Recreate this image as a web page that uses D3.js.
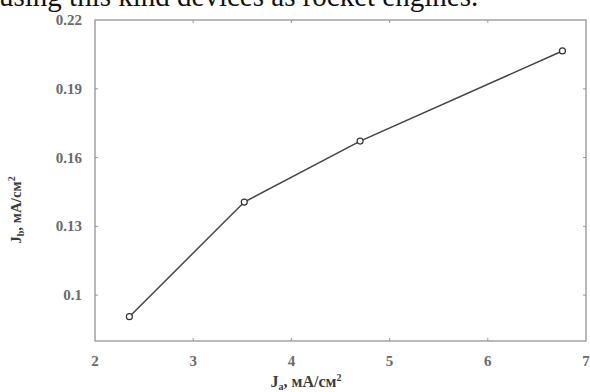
<!DOCTYPE html>
<html>
<head>
<meta charset="utf-8">
<script src="https://cdn.jsdelivr.net/npm/d3@7"></script>
<style>
body { margin: 0; background: #fff; }
svg { display: block; }
.tick_label { font-family: "Liberation Serif", "DejaVu Serif", serif; font-size: 15px; fill: #6a6a6a; font-weight: bold; }
.title { font-family: "Liberation Serif", "DejaVu Serif", serif; fill: #3a3a3a; font-weight: bold; }
</style>
</head>
<body>
<div id="charts"></div>
<script>
const jd_values = [2.35, 3.52, 4.70, 6.76];
const jb_values = [0.0906, 0.1406, 0.1672, 0.2065];
const x_ticks = [2, 3, 4, 5, 6, 7];
const y_ticks = [0.1, 0.13, 0.16, 0.19, 0.22];

let svg_width = 590, svg_height = 392,
    margin = {top: 20, right: 4, bottom: 51, left: 95},
    width = svg_width - margin.left - margin.right,
    height = svg_height - margin.top - margin.bottom;

let x = d3.scaleLinear().domain([2, 7]).range([0, width]);
let y = d3.scaleLinear().domain([0.08, 0.22]).range([height, 0]);

let svg = d3.select("#charts").append("svg")
    .attr("width", svg_width)
    .attr("height", svg_height);

// caption line of the page above the figure, clipped by the top edge like in the scan
svg.append("text")
    .attr("x", -1)
    .attr("y", 6)
    .style("font-family", "'Liberation Serif', serif")
    .style("font-size", "29px")
    .style("fill", "#111")
    .text("using this kind devices as rocket engines.");

let g = svg.append("g")
    .attr("transform", "translate(" + margin.left + ", " + margin.top + ")");

// inward ticks on all four sides
const tick_len = 3;
g.selectAll(".xTickB").data(x_ticks.slice(1, -1)).enter().append("line")
    .attr("x1", d => x(d)).attr("x2", d => x(d))
    .attr("y1", height).attr("y2", height - tick_len)
    .attr("stroke", "#999");
g.selectAll(".xTickT").data(x_ticks.slice(1, -1)).enter().append("line")
    .attr("x1", d => x(d)).attr("x2", d => x(d))
    .attr("y1", 0).attr("y2", tick_len)
    .attr("stroke", "#999");
g.selectAll(".yTickL").data(y_ticks.slice(0, -1)).enter().append("line")
    .attr("x1", 0).attr("x2", tick_len)
    .attr("y1", d => y(d)).attr("y2", d => y(d))
    .attr("stroke", "#999");
g.selectAll(".yTickR").data(y_ticks.slice(0, -1)).enter().append("line")
    .attr("x1", width).attr("x2", width - tick_len)
    .attr("y1", d => y(d)).attr("y2", d => y(d))
    .attr("stroke", "#999");

g.append("rect")
    .attr("width", width)
    .attr("height", height)
    .attr("fill", "none")
    .attr("stroke", "#8a8a8a")
    .attr("stroke-width", 1.2);

g.selectAll(".xLabel").data(x_ticks).enter().append("text")
    .attr("class", "tick_label")
    .attr("text-anchor", "middle")
    .attr("x", d => x(d))
    .attr("y", height + 25)
    .text(d => d);

g.selectAll(".yLabel").data(y_ticks).enter().append("text")
    .attr("class", "tick_label")
    .attr("text-anchor", "end")
    .attr("x", -13)
    .attr("y", d => y(d) + 5)
    .text(d => d);

let points = jd_values.map((v, i) => [v, jb_values[i]]);

g.append("path")
    .datum(points)
    .attr("fill", "none")
    .attr("stroke", "#444")
    .attr("stroke-width", 1.5)
    .attr("d", d3.line().x(p => x(p[0])).y(p => y(p[1])));

g.selectAll(".pt").data(points).enter().append("circle")
    .attr("cx", p => x(p[0]))
    .attr("cy", p => y(p[1]))
    .attr("r", 3)
    .attr("fill", "#fff")
    .attr("stroke", "#333")
    .attr("stroke-width", 1.2);

// axis titles
let x_title = svg.append("text")
    .attr("class", "title")
    .attr("text-anchor", "middle")
    .attr("x", 306)
    .attr("y", 387)
    .style("font-size", "16px");
x_title.append("tspan").text("J");
x_title.append("tspan").attr("dy", 3).style("font-size", "10px").text("a");
x_title.append("tspan").attr("dy", -3).text(", мА/см");
x_title.append("tspan").attr("dy", -6).style("font-size", "10px").text("2");

let y_title = svg.append("text")
    .attr("class", "title")
    .attr("text-anchor", "middle")
    .attr("transform", "translate(21, 210) rotate(-90)")
    .style("font-size", "15px");
y_title.append("tspan").text("J");
y_title.append("tspan").attr("dy", 3).style("font-size", "10px").text("b");
y_title.append("tspan").attr("dy", -3).text(",  мА/см");
y_title.append("tspan").attr("dy", -6).style("font-size", "10px").text("2");
</script>
</body>
</html>
